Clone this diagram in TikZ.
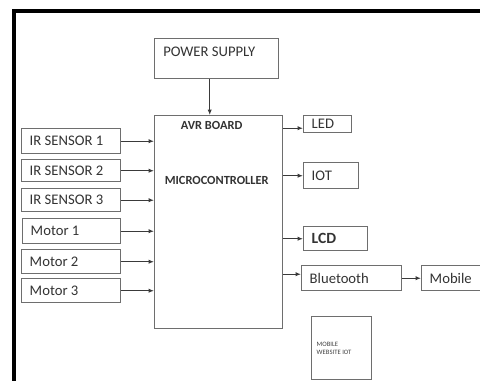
\documentclass[tikz,border=0pt]{standalone}
\usepackage{fontspec}
\setmainfont{Carlito}
\usetikzlibrary{arrows.meta,positioning,calc}
\definecolor{boxL}{HTML}{6E6E6E}
\definecolor{wireL}{HTML}{3A3A3A}
\definecolor{txtC}{HTML}{333333}
\newcommand{\pxu}{0.75pt}

\begin{document}
\begin{tikzpicture}[x=0.75pt,y=-0.75pt,
  blk/.style 2 args={draw=boxL,line width=1.1pt,anchor=north west,
    inner xsep=6pt,inner ysep=0pt,text width={(#1-16)*\pxu},minimum height={#2*\pxu},
    font=\fontsize{11}{13}\selectfont,text=txtC,
    execute at begin node={\spaceskip=0pt\xspaceskip=0pt\relax}},
  hd/.style={font=\bfseries\fontsize{9.3}{11}\selectfont,text=txtC,inner sep=0pt},
  lbl/.style={font=\fontsize{11}{13}\selectfont,text=txtC,inner sep=0pt},
  wire/.style={-{Latex[length=4pt,width=3.2pt]},draw=wireL,line width=0.9pt}]

  \useasboundingbox (0,0) rectangle (480,381);
  \clip (0,0) rectangle (480,381);
  \draw[line width=2.3pt] (14,11) rectangle (700,600);

  % supply and controller
  \node[blk={124}{40}] (pwr) at (154,38) {};
  \node[lbl,anchor=north west] (pwrtxt) at ([shift={(9,9)}]pwr.north west) {POWER SUPPLY};
  \node[blk={128}{213}] (avr) at (154,115) {};
  \node[hd] (avrtxt) at ([shift={(-7,10)}]avr.north) {AVR BOARD};
  \node[hd] (mcutxt) at ([shift={(-2,65)}]avr.north) {MICROCONTROLLER};

  % inputs
  \node[blk={99}{25}] (ir1) at (21,128) {IR SENSOR 1};
  \node[blk={99}{22}] (ir2) at (21,159) {IR SENSOR 2};
  \node[blk={99}{23}] (ir3) at (21,188) {IR SENSOR 3};
  \node[blk={98}{25}] (mt1) at (22,218) {Motor 1};
  \node[blk={99}{24}] (mt2) at (21,249) {Motor 2};
  \node[blk={99}{24}] (mt3) at (21,278) {Motor 3};

  % outputs
  \node[blk={48}{17}] (led) at (303,115) {LED};
  \node[blk={55}{26}] (iot) at (303,162) {IOT};
  \node[blk={64}{24},font=\bfseries\fontsize{11.7}{13}\selectfont] (lcd) at (303,226) {LCD};
  \node[blk={100}{25}] (bt) at (301,265) {Bluetooth};
  \node[blk={70}{25}] (mob) at (421,265) {Mobile};
  \node[blk={58}{63},inner xsep=3.75pt,text width={50*\pxu},
    font=\fontsize{5}{6.5}\selectfont,text=black!75] (web) at (311,316)
    {MOBILE\\WEBSITE IOT};

  \draw[wire] ([xshift=-5.25pt]pwr.south) -- ([xshift=-5.25pt]pwr.south |- avr.north);

  \foreach \n in {ir1,ir2,ir3,mt1,mt2,mt3}
    \draw[wire] (\n.east) -- (\n.east -| avr.west);

  \draw[wire] ([yshift=-3pt]avr.east |- led.west) -- ([yshift=-3pt]led.west);
  \draw[wire] (avr.east |- iot.west) -- (iot.west);
  \draw[wire] (avr.east |- lcd.west) -- (lcd.west);
  \draw[wire] ([yshift=3pt]avr.east |- bt.west) -- ([yshift=3pt]bt.west);
  \draw[wire] (bt.east) -- (mob.west);
\end{tikzpicture}
\end{document}
